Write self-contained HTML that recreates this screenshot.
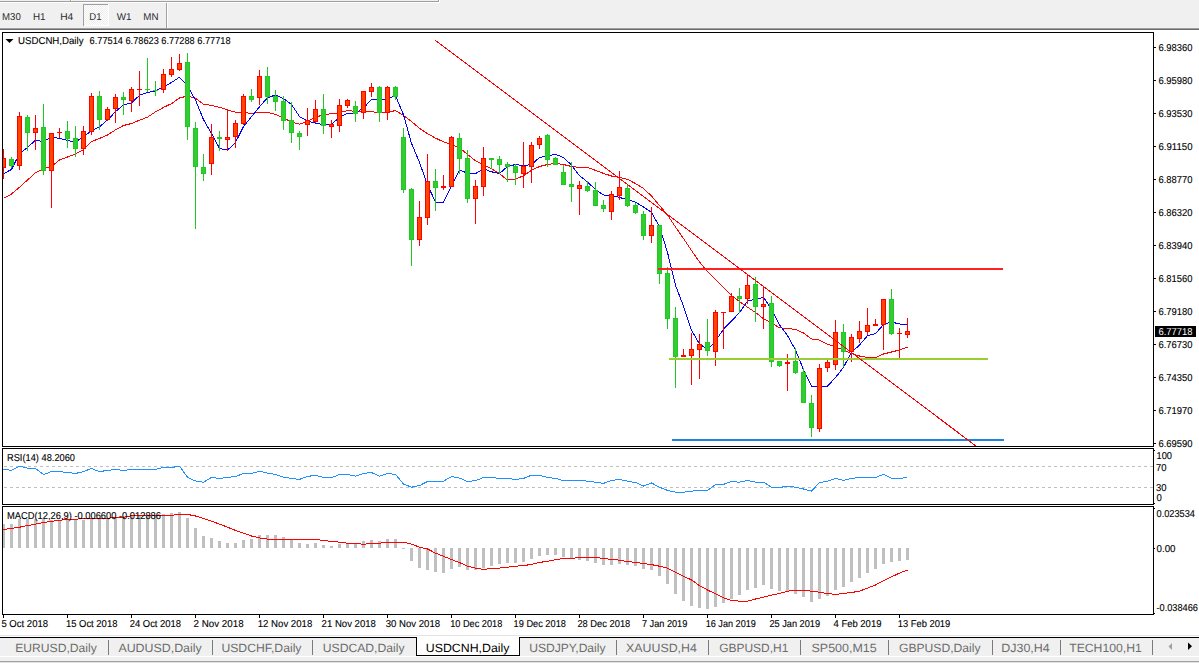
<!DOCTYPE html>
<html><head><meta charset="utf-8"><title>USDCNH,Daily</title>
<style>
html,body{margin:0;padding:0;background:#f0f0f0;width:1199px;height:663px;overflow:hidden}
svg{position:absolute;left:0;top:0;display:block}
text{font-family:'Liberation Sans', Arial, sans-serif;text-rendering:geometricPrecision}
.k{stroke:#000;stroke-width:0.12px}
</style></head><body>
<svg width="1199" height="663" viewBox="0 0 1199 663" shape-rendering="crispEdges">

<rect x="0" y="0" width="1199" height="30" fill="#f0f0f0"/>
<rect x="0" y="1" width="438" height="1" fill="#a0a0a0"/>
<rect x="0" y="2" width="440" height="1" fill="#ffffff"/>
<rect x="438" y="0" width="1" height="2" fill="#a0a0a0"/>
<rect x="439" y="0" width="1" height="3" fill="#ffffff"/>
<rect x="70" y="0" width="1" height="1" fill="#a0a0a0"/>
<rect x="71" y="0" width="1" height="1" fill="#ffffff"/>
<rect x="83" y="4" width="26" height="22" fill="#ffffff"/>
<defs><pattern id="dith" width="2" height="2" patternUnits="userSpaceOnUse"><rect width="2" height="2" fill="#ffffff"/><rect width="1" height="1" fill="#ededed"/><rect x="1" y="1" width="1" height="1" fill="#ededed"/></pattern></defs>
<rect x="84" y="5" width="24" height="20" fill="url(#dith)"/>
<rect x="83" y="4" width="25" height="1" fill="#a0a0a0"/>
<rect x="83" y="4" width="1" height="22" fill="#a0a0a0"/>
<rect x="166" y="3" width="1" height="25" fill="#a0a0a0"/>
<rect x="167" y="3" width="1" height="25" fill="#ffffff"/>
<rect x="0" y="28" width="1199" height="1" fill="#a0a0a0"/>
<rect x="0" y="29" width="1199" height="1" fill="#696969"/>
<text x="2.1" y="20" font-size="10" fill="#2b2b2b" textLength="18.7" lengthAdjust="spacingAndGlyphs">M30</text>
<text x="32.9" y="20" font-size="10" fill="#2b2b2b" textLength="12.6" lengthAdjust="spacingAndGlyphs">H1</text>
<text x="60.2" y="20" font-size="10" fill="#2b2b2b" textLength="13.1" lengthAdjust="spacingAndGlyphs">H4</text>
<text x="89.3" y="20" font-size="10" fill="#2b2b2b" textLength="12.2" lengthAdjust="spacingAndGlyphs">D1</text>
<text x="116.7" y="20" font-size="10" fill="#2b2b2b" textLength="14.8" lengthAdjust="spacingAndGlyphs">W1</text>
<text x="143.3" y="20" font-size="10" fill="#2b2b2b" textLength="15.2" lengthAdjust="spacingAndGlyphs">MN</text>
<rect x="0" y="30" width="1199" height="605" fill="#ffffff"/>
<rect x="0" y="635" width="1199" height="1" fill="#e3e3e3"/>
<rect x="0" y="636" width="1199" height="1" fill="#ffffff"/>
<clipPath id="cmain"><rect x="3" y="33" width="1150" height="413"/></clipPath>
<clipPath id="crsi"><rect x="3" y="449" width="1150" height="55"/></clipPath>
<clipPath id="cmacd"><rect x="3" y="507" width="1150" height="107"/></clipPath>
<g clip-path="url(#cmain)">
<polyline points="3.5,198.4 11.5,194.0 19.5,187.2 27.5,180.0 35.5,172.8 43.5,168.8 51.5,166.4 59.5,160.0 67.5,157.0 75.5,154.0 83.5,149.7 91.5,141.6 99.5,138.4 107.5,135.1 115.5,129.8 123.5,125.5 131.5,123.5 139.5,120.2 147.5,117.2 155.5,111.9 163.5,107.4 171.5,103.6 179.5,98.0 187.5,96.0 195.5,98.3 203.5,104.3 211.5,105.4 219.5,107.3 227.5,109.9 235.5,112.2 243.5,112.5 251.5,113.4 259.5,112.5 267.5,112.5 275.5,114.3 283.5,118.1 291.5,121.9 299.5,124.2 307.5,121.6 315.5,117.0 323.5,115.0 331.5,113.6 339.5,112.8 347.5,110.6 355.5,111.3 363.5,111.3 371.5,111.6 379.5,112.8 387.5,112.5 395.5,110.5 403.5,115.5 411.5,121.5 419.5,128.3 427.5,133.6 435.5,138.1 443.5,141.9 451.5,144.5 459.5,147.6 467.5,154.4 475.5,160.9 483.5,164.5 491.5,168.8 499.5,173.6 507.5,180.1 515.5,179.3 523.5,175.6 531.5,170.3 539.5,166.5 547.5,164.5 555.5,163.5 563.5,164.5 571.5,166.5 579.5,167.4 587.5,167.4 595.5,170.4 603.5,173.4 611.5,176.0 619.5,177.2 627.5,179.4 635.5,183.5 643.5,188.5 651.5,196.0 659.5,205.5 667.5,215.0 675.5,227.0 683.5,238.5 691.5,250.5 699.5,262.0 707.5,271.5 715.5,279.5 723.5,287.5 731.5,295.5 739.5,301.5 747.5,307.2 755.5,312.5 763.5,318.7 771.5,323.0 779.5,327.8 787.5,328.5 795.5,329.5 803.5,333.0 811.5,339.0 819.5,340.1 827.5,344.2 835.5,347.0 843.5,350.0 851.5,353.7 859.5,356.0 867.5,357.5 875.5,357.8 883.5,354.0 891.5,352.0 899.5,350.0 907.5,347.0" fill="none" stroke="#ff0000" stroke-width="1" clip-path="url(#cmain)" shape-rendering="crispEdges"/>
<polyline points="3.5,173.7 11.5,169.5 19.5,153.8 27.5,147.4 35.5,140.2 43.5,141.7 51.5,137.0 59.5,138.4 67.5,140.4 75.5,142.2 83.5,136.5 91.5,130.8 99.5,126.8 107.5,120.0 115.5,111.7 123.5,104.9 131.5,103.0 139.5,95.3 147.5,92.6 155.5,90.8 163.5,87.0 171.5,82.5 179.5,77.2 187.5,86.0 195.5,100.0 203.5,119.7 211.5,133.3 219.5,148.4 227.5,150.2 235.5,142.4 243.5,126.5 251.5,116.7 259.5,106.8 267.5,97.7 275.5,95.0 283.5,98.5 291.5,104.5 299.5,116.6 307.5,121.1 315.5,123.1 323.5,124.6 331.5,124.2 339.5,117.4 347.5,113.1 355.5,113.1 363.5,108.0 371.5,99.5 379.5,100.0 387.5,98.9 395.5,95.8 403.5,114.7 411.5,143.4 419.5,162.3 427.5,185.0 435.5,202.0 443.5,202.0 451.5,186.1 459.5,170.3 467.5,173.0 475.5,173.6 483.5,168.8 491.5,171.8 499.5,173.6 507.5,166.5 515.5,164.5 523.5,165.8 531.5,164.5 539.5,157.5 547.5,155.9 555.5,154.4 563.5,157.5 571.5,165.0 579.5,175.7 587.5,182.0 595.5,189.5 603.5,195.0 611.5,195.3 619.5,197.5 627.5,199.5 635.5,202.1 643.5,207.0 651.5,212.4 659.5,226.7 667.5,252.4 675.5,285.3 683.5,306.1 691.5,330.3 699.5,343.9 707.5,349.8 715.5,341.0 723.5,329.2 731.5,321.2 739.5,312.5 747.5,301.2 755.5,299.0 763.5,297.5 771.5,309.0 779.5,325.0 787.5,335.6 795.5,349.9 803.5,369.7 811.5,386.0 819.5,386.0 827.5,386.0 835.5,377.6 843.5,367.3 851.5,352.2 859.5,345.1 867.5,335.6 875.5,333.6 883.5,324.5 891.5,322.0 899.5,324.0 907.5,324.5" fill="none" stroke="#0000ff" stroke-width="1" clip-path="url(#cmain)" shape-rendering="crispEdges"/>
<rect x="3" y="149" width="1" height="30" fill="#ff0000"/>
<rect x="1" y="158" width="5" height="10" fill="#ff0000"/>
<rect x="2" y="159" width="3" height="8" fill="#ff4500"/>
<rect x="11" y="157" width="1" height="11" fill="#22c822"/>
<rect x="9" y="159" width="5" height="7" fill="#22c822"/>
<rect x="10" y="160" width="3" height="5" fill="#32cd32"/>
<rect x="19" y="112" width="1" height="58" fill="#ff0000"/>
<rect x="17" y="116" width="5" height="50" fill="#ff0000"/>
<rect x="18" y="117" width="3" height="48" fill="#ff4500"/>
<rect x="27" y="115" width="1" height="36" fill="#22c822"/>
<rect x="25" y="117" width="5" height="16" fill="#22c822"/>
<rect x="26" y="118" width="3" height="14" fill="#32cd32"/>
<rect x="35" y="115" width="1" height="35" fill="#ff0000"/>
<rect x="33" y="128" width="5" height="5" fill="#ff0000"/>
<rect x="34" y="129" width="3" height="3" fill="#ff4500"/>
<rect x="43" y="104" width="1" height="71" fill="#22c822"/>
<rect x="41" y="127" width="5" height="44" fill="#22c822"/>
<rect x="42" y="128" width="3" height="42" fill="#32cd32"/>
<rect x="51" y="133" width="1" height="75" fill="#ff0000"/>
<rect x="49" y="133" width="5" height="38" fill="#ff0000"/>
<rect x="50" y="134" width="3" height="36" fill="#ff4500"/>
<rect x="59" y="128" width="1" height="10" fill="#ff0000"/>
<rect x="57" y="132" width="5" height="1" fill="#ff0000"/>
<rect x="67" y="121" width="1" height="27" fill="#22c822"/>
<rect x="65" y="131" width="5" height="8" fill="#22c822"/>
<rect x="66" y="132" width="3" height="6" fill="#32cd32"/>
<rect x="75" y="126" width="1" height="31" fill="#22c822"/>
<rect x="73" y="138" width="5" height="11" fill="#22c822"/>
<rect x="74" y="139" width="3" height="9" fill="#32cd32"/>
<rect x="83" y="126" width="1" height="29" fill="#ff0000"/>
<rect x="81" y="131" width="5" height="18" fill="#ff0000"/>
<rect x="82" y="132" width="3" height="16" fill="#ff4500"/>
<rect x="91" y="93" width="1" height="42" fill="#ff0000"/>
<rect x="89" y="96" width="5" height="36" fill="#ff0000"/>
<rect x="90" y="97" width="3" height="34" fill="#ff4500"/>
<rect x="99" y="91" width="1" height="39" fill="#22c822"/>
<rect x="97" y="96" width="5" height="24" fill="#22c822"/>
<rect x="98" y="97" width="3" height="22" fill="#32cd32"/>
<rect x="107" y="107" width="1" height="14" fill="#ff0000"/>
<rect x="105" y="109" width="5" height="11" fill="#ff0000"/>
<rect x="106" y="110" width="3" height="9" fill="#ff4500"/>
<rect x="115" y="94" width="1" height="29" fill="#ff0000"/>
<rect x="113" y="97" width="5" height="12" fill="#ff0000"/>
<rect x="114" y="98" width="3" height="10" fill="#ff4500"/>
<rect x="123" y="92" width="1" height="23" fill="#22c822"/>
<rect x="121" y="97" width="5" height="3" fill="#22c822"/>
<rect x="122" y="98" width="3" height="1" fill="#32cd32"/>
<rect x="131" y="87" width="1" height="25" fill="#ff0000"/>
<rect x="129" y="89" width="5" height="12" fill="#ff0000"/>
<rect x="130" y="90" width="3" height="10" fill="#ff4500"/>
<rect x="139" y="71" width="1" height="35" fill="#ff0000"/>
<rect x="137" y="89" width="5" height="1" fill="#ff0000"/>
<rect x="147" y="58" width="1" height="34" fill="#22c822"/>
<rect x="145" y="89" width="5" height="1" fill="#22c822"/>
<rect x="155" y="81" width="1" height="15" fill="#22c822"/>
<rect x="153" y="90" width="5" height="1" fill="#22c822"/>
<rect x="163" y="69" width="1" height="24" fill="#ff0000"/>
<rect x="161" y="74" width="5" height="16" fill="#ff0000"/>
<rect x="162" y="75" width="3" height="14" fill="#ff4500"/>
<rect x="171" y="57" width="1" height="20" fill="#ff0000"/>
<rect x="169" y="69" width="5" height="6" fill="#ff0000"/>
<rect x="170" y="70" width="3" height="4" fill="#ff4500"/>
<rect x="179" y="54" width="1" height="17" fill="#ff0000"/>
<rect x="177" y="63" width="5" height="7" fill="#ff0000"/>
<rect x="178" y="64" width="3" height="5" fill="#ff4500"/>
<rect x="187" y="53" width="1" height="87" fill="#22c822"/>
<rect x="185" y="62" width="5" height="65" fill="#22c822"/>
<rect x="186" y="63" width="3" height="63" fill="#32cd32"/>
<rect x="195" y="122" width="1" height="107" fill="#22c822"/>
<rect x="193" y="128" width="5" height="39" fill="#22c822"/>
<rect x="194" y="129" width="3" height="37" fill="#32cd32"/>
<rect x="203" y="154" width="1" height="27" fill="#22c822"/>
<rect x="201" y="167" width="5" height="7" fill="#22c822"/>
<rect x="202" y="168" width="3" height="5" fill="#32cd32"/>
<rect x="211" y="124" width="1" height="51" fill="#ff0000"/>
<rect x="209" y="137" width="5" height="27" fill="#ff0000"/>
<rect x="210" y="138" width="3" height="25" fill="#ff4500"/>
<rect x="219" y="131" width="1" height="20" fill="#22c822"/>
<rect x="217" y="137" width="5" height="2" fill="#22c822"/>
<rect x="227" y="109" width="1" height="42" fill="#ff0000"/>
<rect x="225" y="137" width="5" height="3" fill="#ff0000"/>
<rect x="226" y="138" width="3" height="1" fill="#ff4500"/>
<rect x="235" y="120" width="1" height="28" fill="#ff0000"/>
<rect x="233" y="123" width="5" height="14" fill="#ff0000"/>
<rect x="234" y="124" width="3" height="12" fill="#ff4500"/>
<rect x="243" y="94" width="1" height="31" fill="#ff0000"/>
<rect x="241" y="96" width="5" height="28" fill="#ff0000"/>
<rect x="242" y="97" width="3" height="26" fill="#ff4500"/>
<rect x="251" y="89" width="1" height="13" fill="#22c822"/>
<rect x="249" y="96" width="5" height="4" fill="#22c822"/>
<rect x="250" y="97" width="3" height="2" fill="#32cd32"/>
<rect x="259" y="70" width="1" height="35" fill="#ff0000"/>
<rect x="257" y="76" width="5" height="22" fill="#ff0000"/>
<rect x="258" y="77" width="3" height="20" fill="#ff4500"/>
<rect x="267" y="67" width="1" height="37" fill="#22c822"/>
<rect x="265" y="76" width="5" height="21" fill="#22c822"/>
<rect x="266" y="77" width="3" height="19" fill="#32cd32"/>
<rect x="275" y="90" width="1" height="21" fill="#22c822"/>
<rect x="273" y="96" width="5" height="6" fill="#22c822"/>
<rect x="274" y="97" width="3" height="4" fill="#32cd32"/>
<rect x="283" y="96" width="1" height="34" fill="#22c822"/>
<rect x="281" y="101" width="5" height="20" fill="#22c822"/>
<rect x="282" y="102" width="3" height="18" fill="#32cd32"/>
<rect x="291" y="102" width="1" height="41" fill="#22c822"/>
<rect x="289" y="120" width="5" height="13" fill="#22c822"/>
<rect x="290" y="121" width="3" height="11" fill="#32cd32"/>
<rect x="299" y="131" width="1" height="19" fill="#22c822"/>
<rect x="297" y="133" width="5" height="4" fill="#22c822"/>
<rect x="298" y="134" width="3" height="2" fill="#32cd32"/>
<rect x="307" y="108" width="1" height="28" fill="#ff0000"/>
<rect x="305" y="120" width="5" height="5" fill="#ff0000"/>
<rect x="306" y="121" width="3" height="3" fill="#ff4500"/>
<rect x="315" y="100" width="1" height="23" fill="#ff0000"/>
<rect x="313" y="109" width="5" height="13" fill="#ff0000"/>
<rect x="314" y="110" width="3" height="11" fill="#ff4500"/>
<rect x="323" y="94" width="1" height="40" fill="#22c822"/>
<rect x="321" y="109" width="5" height="17" fill="#22c822"/>
<rect x="322" y="110" width="3" height="15" fill="#32cd32"/>
<rect x="331" y="120" width="1" height="18" fill="#ff0000"/>
<rect x="329" y="124" width="5" height="3" fill="#ff0000"/>
<rect x="330" y="125" width="3" height="1" fill="#ff4500"/>
<rect x="339" y="99" width="1" height="33" fill="#ff0000"/>
<rect x="337" y="105" width="5" height="21" fill="#ff0000"/>
<rect x="338" y="106" width="3" height="19" fill="#ff4500"/>
<rect x="347" y="99" width="1" height="9" fill="#ff0000"/>
<rect x="345" y="100" width="5" height="6" fill="#ff0000"/>
<rect x="346" y="101" width="3" height="4" fill="#ff4500"/>
<rect x="355" y="101" width="1" height="21" fill="#22c822"/>
<rect x="353" y="106" width="5" height="8" fill="#22c822"/>
<rect x="354" y="107" width="3" height="6" fill="#32cd32"/>
<rect x="363" y="91" width="1" height="28" fill="#ff0000"/>
<rect x="361" y="91" width="5" height="22" fill="#ff0000"/>
<rect x="362" y="92" width="3" height="20" fill="#ff4500"/>
<rect x="371" y="83" width="1" height="14" fill="#ff0000"/>
<rect x="369" y="87" width="5" height="5" fill="#ff0000"/>
<rect x="370" y="88" width="3" height="3" fill="#ff4500"/>
<rect x="379" y="86" width="1" height="36" fill="#22c822"/>
<rect x="377" y="87" width="5" height="26" fill="#22c822"/>
<rect x="378" y="88" width="3" height="24" fill="#32cd32"/>
<rect x="387" y="86" width="1" height="34" fill="#ff0000"/>
<rect x="385" y="87" width="5" height="26" fill="#ff0000"/>
<rect x="386" y="88" width="3" height="24" fill="#ff4500"/>
<rect x="395" y="86" width="1" height="14" fill="#22c822"/>
<rect x="393" y="87" width="5" height="10" fill="#22c822"/>
<rect x="394" y="88" width="3" height="8" fill="#32cd32"/>
<rect x="403" y="128" width="1" height="65" fill="#22c822"/>
<rect x="401" y="137" width="5" height="53" fill="#22c822"/>
<rect x="402" y="138" width="3" height="51" fill="#32cd32"/>
<rect x="411" y="188" width="1" height="78" fill="#22c822"/>
<rect x="409" y="189" width="5" height="51" fill="#22c822"/>
<rect x="410" y="190" width="3" height="49" fill="#32cd32"/>
<rect x="419" y="201" width="1" height="45" fill="#ff0000"/>
<rect x="417" y="217" width="5" height="23" fill="#ff0000"/>
<rect x="418" y="218" width="3" height="21" fill="#ff4500"/>
<rect x="427" y="154" width="1" height="71" fill="#ff0000"/>
<rect x="425" y="181" width="5" height="37" fill="#ff0000"/>
<rect x="426" y="182" width="3" height="35" fill="#ff4500"/>
<rect x="435" y="169" width="1" height="42" fill="#22c822"/>
<rect x="433" y="181" width="5" height="7" fill="#22c822"/>
<rect x="434" y="182" width="3" height="5" fill="#32cd32"/>
<rect x="443" y="175" width="1" height="15" fill="#ff0000"/>
<rect x="441" y="186" width="5" height="2" fill="#ff0000"/>
<rect x="451" y="136" width="1" height="51" fill="#ff0000"/>
<rect x="449" y="137" width="5" height="50" fill="#ff0000"/>
<rect x="450" y="138" width="3" height="48" fill="#ff4500"/>
<rect x="459" y="133" width="1" height="41" fill="#22c822"/>
<rect x="457" y="138" width="5" height="21" fill="#22c822"/>
<rect x="458" y="139" width="3" height="19" fill="#32cd32"/>
<rect x="467" y="150" width="1" height="53" fill="#22c822"/>
<rect x="465" y="158" width="5" height="41" fill="#22c822"/>
<rect x="466" y="159" width="3" height="39" fill="#32cd32"/>
<rect x="475" y="180" width="1" height="44" fill="#ff0000"/>
<rect x="473" y="186" width="5" height="13" fill="#ff0000"/>
<rect x="474" y="187" width="3" height="11" fill="#ff4500"/>
<rect x="483" y="147" width="1" height="49" fill="#ff0000"/>
<rect x="481" y="158" width="5" height="29" fill="#ff0000"/>
<rect x="482" y="159" width="3" height="27" fill="#ff4500"/>
<rect x="491" y="158" width="1" height="11" fill="#22c822"/>
<rect x="489" y="158" width="5" height="2" fill="#22c822"/>
<rect x="499" y="156" width="1" height="18" fill="#22c822"/>
<rect x="497" y="159" width="5" height="6" fill="#22c822"/>
<rect x="498" y="160" width="3" height="4" fill="#32cd32"/>
<rect x="507" y="162" width="1" height="20" fill="#22c822"/>
<rect x="505" y="164" width="5" height="3" fill="#22c822"/>
<rect x="506" y="165" width="3" height="1" fill="#32cd32"/>
<rect x="515" y="164" width="1" height="21" fill="#22c822"/>
<rect x="513" y="166" width="5" height="7" fill="#22c822"/>
<rect x="514" y="167" width="3" height="5" fill="#32cd32"/>
<rect x="523" y="142" width="1" height="46" fill="#ff0000"/>
<rect x="521" y="166" width="5" height="8" fill="#ff0000"/>
<rect x="522" y="167" width="3" height="6" fill="#ff4500"/>
<rect x="531" y="142" width="1" height="41" fill="#ff0000"/>
<rect x="529" y="145" width="5" height="22" fill="#ff0000"/>
<rect x="530" y="146" width="3" height="20" fill="#ff4500"/>
<rect x="539" y="136" width="1" height="13" fill="#ff0000"/>
<rect x="537" y="138" width="5" height="7" fill="#ff0000"/>
<rect x="538" y="139" width="3" height="5" fill="#ff4500"/>
<rect x="547" y="134" width="1" height="33" fill="#22c822"/>
<rect x="545" y="135" width="5" height="25" fill="#22c822"/>
<rect x="546" y="136" width="3" height="23" fill="#32cd32"/>
<rect x="555" y="157" width="1" height="8" fill="#22c822"/>
<rect x="553" y="158" width="5" height="7" fill="#22c822"/>
<rect x="554" y="159" width="3" height="5" fill="#32cd32"/>
<rect x="563" y="165" width="1" height="20" fill="#22c822"/>
<rect x="561" y="172" width="5" height="13" fill="#22c822"/>
<rect x="562" y="173" width="3" height="11" fill="#32cd32"/>
<rect x="571" y="162" width="1" height="40" fill="#22c822"/>
<rect x="569" y="184" width="5" height="3" fill="#22c822"/>
<rect x="570" y="185" width="3" height="1" fill="#32cd32"/>
<rect x="579" y="181" width="1" height="34" fill="#ff0000"/>
<rect x="577" y="185" width="5" height="4" fill="#ff0000"/>
<rect x="578" y="186" width="3" height="2" fill="#ff4500"/>
<rect x="587" y="181" width="1" height="11" fill="#22c822"/>
<rect x="585" y="186" width="5" height="5" fill="#22c822"/>
<rect x="586" y="187" width="3" height="3" fill="#32cd32"/>
<rect x="595" y="182" width="1" height="24" fill="#22c822"/>
<rect x="593" y="190" width="5" height="16" fill="#22c822"/>
<rect x="594" y="191" width="3" height="14" fill="#32cd32"/>
<rect x="603" y="200" width="1" height="12" fill="#22c822"/>
<rect x="601" y="205" width="5" height="4" fill="#22c822"/>
<rect x="602" y="206" width="3" height="2" fill="#32cd32"/>
<rect x="611" y="191" width="1" height="29" fill="#ff0000"/>
<rect x="609" y="194" width="5" height="18" fill="#ff0000"/>
<rect x="610" y="195" width="3" height="16" fill="#ff4500"/>
<rect x="619" y="171" width="1" height="29" fill="#ff0000"/>
<rect x="617" y="187" width="5" height="9" fill="#ff0000"/>
<rect x="618" y="188" width="3" height="7" fill="#ff4500"/>
<rect x="627" y="184" width="1" height="23" fill="#22c822"/>
<rect x="625" y="188" width="5" height="18" fill="#22c822"/>
<rect x="626" y="189" width="3" height="16" fill="#32cd32"/>
<rect x="635" y="203" width="1" height="11" fill="#22c822"/>
<rect x="633" y="205" width="5" height="8" fill="#22c822"/>
<rect x="634" y="206" width="3" height="6" fill="#32cd32"/>
<rect x="643" y="211" width="1" height="29" fill="#22c822"/>
<rect x="641" y="214" width="5" height="22" fill="#22c822"/>
<rect x="642" y="215" width="3" height="20" fill="#32cd32"/>
<rect x="651" y="207" width="1" height="36" fill="#ff0000"/>
<rect x="649" y="225" width="5" height="11" fill="#ff0000"/>
<rect x="650" y="226" width="3" height="9" fill="#ff4500"/>
<rect x="659" y="225" width="1" height="59" fill="#22c822"/>
<rect x="657" y="225" width="5" height="49" fill="#22c822"/>
<rect x="658" y="226" width="3" height="47" fill="#32cd32"/>
<rect x="667" y="267" width="1" height="62" fill="#22c822"/>
<rect x="665" y="273" width="5" height="46" fill="#22c822"/>
<rect x="666" y="274" width="3" height="44" fill="#32cd32"/>
<rect x="675" y="307" width="1" height="81" fill="#22c822"/>
<rect x="673" y="318" width="5" height="39" fill="#22c822"/>
<rect x="674" y="319" width="3" height="37" fill="#32cd32"/>
<rect x="683" y="349" width="1" height="8" fill="#ff0000"/>
<rect x="681" y="355" width="5" height="2" fill="#ff0000"/>
<rect x="691" y="333" width="1" height="52" fill="#ff0000"/>
<rect x="689" y="349" width="5" height="7" fill="#ff0000"/>
<rect x="690" y="350" width="3" height="5" fill="#ff4500"/>
<rect x="699" y="334" width="1" height="45" fill="#ff0000"/>
<rect x="697" y="344" width="5" height="6" fill="#ff0000"/>
<rect x="698" y="345" width="3" height="4" fill="#ff4500"/>
<rect x="707" y="319" width="1" height="37" fill="#22c822"/>
<rect x="705" y="342" width="5" height="9" fill="#22c822"/>
<rect x="706" y="343" width="3" height="7" fill="#32cd32"/>
<rect x="715" y="310" width="1" height="56" fill="#ff0000"/>
<rect x="713" y="312" width="5" height="40" fill="#ff0000"/>
<rect x="714" y="313" width="3" height="38" fill="#ff4500"/>
<rect x="723" y="312" width="1" height="37" fill="#ff0000"/>
<rect x="721" y="312" width="5" height="1" fill="#ff0000"/>
<rect x="731" y="293" width="1" height="19" fill="#ff0000"/>
<rect x="729" y="296" width="5" height="16" fill="#ff0000"/>
<rect x="730" y="297" width="3" height="14" fill="#ff4500"/>
<rect x="739" y="288" width="1" height="25" fill="#22c822"/>
<rect x="737" y="296" width="5" height="3" fill="#22c822"/>
<rect x="738" y="297" width="3" height="1" fill="#32cd32"/>
<rect x="747" y="274" width="1" height="30" fill="#ff0000"/>
<rect x="745" y="285" width="5" height="14" fill="#ff0000"/>
<rect x="746" y="286" width="3" height="12" fill="#ff4500"/>
<rect x="755" y="277" width="1" height="45" fill="#22c822"/>
<rect x="753" y="284" width="5" height="23" fill="#22c822"/>
<rect x="754" y="285" width="3" height="21" fill="#32cd32"/>
<rect x="763" y="287" width="1" height="42" fill="#ff0000"/>
<rect x="761" y="304" width="5" height="3" fill="#ff0000"/>
<rect x="762" y="305" width="3" height="1" fill="#ff4500"/>
<rect x="771" y="296" width="1" height="71" fill="#22c822"/>
<rect x="769" y="303" width="5" height="59" fill="#22c822"/>
<rect x="770" y="304" width="3" height="57" fill="#32cd32"/>
<rect x="779" y="361" width="1" height="6" fill="#22c822"/>
<rect x="777" y="361" width="5" height="5" fill="#22c822"/>
<rect x="778" y="362" width="3" height="3" fill="#32cd32"/>
<rect x="787" y="354" width="1" height="37" fill="#ff0000"/>
<rect x="785" y="362" width="5" height="2" fill="#ff0000"/>
<rect x="795" y="348" width="1" height="26" fill="#22c822"/>
<rect x="793" y="361" width="5" height="12" fill="#22c822"/>
<rect x="794" y="362" width="3" height="10" fill="#32cd32"/>
<rect x="803" y="368" width="1" height="35" fill="#22c822"/>
<rect x="801" y="372" width="5" height="31" fill="#22c822"/>
<rect x="802" y="373" width="3" height="29" fill="#32cd32"/>
<rect x="811" y="395" width="1" height="42" fill="#22c822"/>
<rect x="809" y="403" width="5" height="25" fill="#22c822"/>
<rect x="810" y="404" width="3" height="23" fill="#32cd32"/>
<rect x="819" y="364" width="1" height="68" fill="#ff0000"/>
<rect x="817" y="368" width="5" height="61" fill="#ff0000"/>
<rect x="818" y="369" width="3" height="59" fill="#ff4500"/>
<rect x="827" y="360" width="1" height="12" fill="#ff0000"/>
<rect x="825" y="362" width="5" height="6" fill="#ff0000"/>
<rect x="826" y="363" width="3" height="4" fill="#ff4500"/>
<rect x="835" y="320" width="1" height="50" fill="#ff0000"/>
<rect x="833" y="332" width="5" height="33" fill="#ff0000"/>
<rect x="834" y="333" width="3" height="31" fill="#ff4500"/>
<rect x="843" y="324" width="1" height="43" fill="#22c822"/>
<rect x="841" y="332" width="5" height="20" fill="#22c822"/>
<rect x="842" y="333" width="3" height="18" fill="#32cd32"/>
<rect x="851" y="334" width="1" height="28" fill="#ff0000"/>
<rect x="849" y="337" width="5" height="15" fill="#ff0000"/>
<rect x="850" y="338" width="3" height="13" fill="#ff4500"/>
<rect x="859" y="321" width="1" height="22" fill="#ff0000"/>
<rect x="857" y="331" width="5" height="8" fill="#ff0000"/>
<rect x="858" y="332" width="3" height="6" fill="#ff4500"/>
<rect x="867" y="308" width="1" height="27" fill="#ff0000"/>
<rect x="865" y="325" width="5" height="7" fill="#ff0000"/>
<rect x="866" y="326" width="3" height="5" fill="#ff4500"/>
<rect x="875" y="319" width="1" height="7" fill="#ff0000"/>
<rect x="873" y="324" width="5" height="2" fill="#ff0000"/>
<rect x="883" y="299" width="1" height="51" fill="#ff0000"/>
<rect x="881" y="299" width="5" height="26" fill="#ff0000"/>
<rect x="882" y="300" width="3" height="24" fill="#ff4500"/>
<rect x="891" y="289" width="1" height="46" fill="#22c822"/>
<rect x="889" y="299" width="5" height="35" fill="#22c822"/>
<rect x="890" y="300" width="3" height="33" fill="#32cd32"/>
<rect x="899" y="328" width="1" height="30" fill="#ff0000"/>
<rect x="897" y="333" width="5" height="1" fill="#ff0000"/>
<rect x="907" y="318" width="1" height="20" fill="#ff0000"/>
<rect x="905" y="331" width="5" height="4" fill="#ff0000"/>
<rect x="906" y="332" width="3" height="2" fill="#ff4500"/>
<rect x="658" y="268" width="345" height="2" fill="#ff2020"/>
<rect x="669" y="358" width="319" height="2" fill="#9acd32"/>
<rect x="672" y="439" width="332" height="2" fill="#1e84e0"/>
<line x1="435.5" y1="40.5" x2="976" y2="446" stroke="#ff0000" stroke-width="1"/>
</g>
<polygon points="5.5,39 13.5,39 9.5,43" fill="#000" shape-rendering="geometricPrecision"/>
<text x="18" y="44" font-size="10" fill="#000" class="k" textLength="65.5" lengthAdjust="spacingAndGlyphs">USDCNH,Daily</text>
<text x="89.6" y="44" font-size="10" fill="#000" class="k" textLength="141" lengthAdjust="spacingAndGlyphs">6.77514 6.78623 6.77288 6.77718</text>
<rect x="2" y="32" width="1152" height="1" fill="#000"/>
<rect x="2" y="446" width="1152" height="1" fill="#000"/>
<rect x="2" y="32" width="1" height="415" fill="#000"/>
<rect x="1153" y="32" width="1" height="415" fill="#000"/>
<rect x="2" y="448" width="1152" height="1" fill="#000"/>
<rect x="2" y="504" width="1152" height="1" fill="#000"/>
<rect x="2" y="448" width="1" height="57" fill="#000"/>
<rect x="1153" y="448" width="1" height="57" fill="#000"/>
<rect x="2" y="506" width="1152" height="1" fill="#000"/>
<rect x="2" y="614" width="1152" height="1" fill="#000"/>
<rect x="2" y="506" width="1" height="109" fill="#000"/>
<rect x="1153" y="506" width="1" height="109" fill="#000"/>
<rect x="1154" y="47" width="2" height="1" fill="#000"/>
<text x="1158.5" y="51" font-size="10" fill="#000" class="k" textLength="34" lengthAdjust="spacingAndGlyphs">6.98360</text>
<rect x="1154" y="80" width="2" height="1" fill="#000"/>
<text x="1158.5" y="84" font-size="10" fill="#000" class="k" textLength="34" lengthAdjust="spacingAndGlyphs">6.95980</text>
<rect x="1154" y="113" width="2" height="1" fill="#000"/>
<text x="1158.5" y="117" font-size="10" fill="#000" class="k" textLength="34" lengthAdjust="spacingAndGlyphs">6.93530</text>
<rect x="1154" y="146" width="2" height="1" fill="#000"/>
<text x="1158.5" y="150" font-size="10" fill="#000" class="k" textLength="34" lengthAdjust="spacingAndGlyphs">6.91150</text>
<rect x="1154" y="179" width="2" height="1" fill="#000"/>
<text x="1158.5" y="183" font-size="10" fill="#000" class="k" textLength="34" lengthAdjust="spacingAndGlyphs">6.88770</text>
<rect x="1154" y="212" width="2" height="1" fill="#000"/>
<text x="1158.5" y="216" font-size="10" fill="#000" class="k" textLength="34" lengthAdjust="spacingAndGlyphs">6.86320</text>
<rect x="1154" y="245" width="2" height="1" fill="#000"/>
<text x="1158.5" y="249" font-size="10" fill="#000" class="k" textLength="34" lengthAdjust="spacingAndGlyphs">6.83940</text>
<rect x="1154" y="278" width="2" height="1" fill="#000"/>
<text x="1158.5" y="282" font-size="10" fill="#000" class="k" textLength="34" lengthAdjust="spacingAndGlyphs">6.81560</text>
<rect x="1154" y="311" width="2" height="1" fill="#000"/>
<text x="1158.5" y="315" font-size="10" fill="#000" class="k" textLength="34" lengthAdjust="spacingAndGlyphs">6.79180</text>
<rect x="1154" y="344" width="2" height="1" fill="#000"/>
<text x="1158.5" y="348" font-size="10" fill="#000" class="k" textLength="34" lengthAdjust="spacingAndGlyphs">6.76730</text>
<rect x="1154" y="377" width="2" height="1" fill="#000"/>
<text x="1158.5" y="381" font-size="10" fill="#000" class="k" textLength="34" lengthAdjust="spacingAndGlyphs">6.74350</text>
<rect x="1154" y="410" width="2" height="1" fill="#000"/>
<text x="1158.5" y="414" font-size="10" fill="#000" class="k" textLength="34" lengthAdjust="spacingAndGlyphs">6.71970</text>
<rect x="1154" y="443" width="2" height="1" fill="#000"/>
<text x="1158.5" y="447" font-size="10" fill="#000" class="k" textLength="34" lengthAdjust="spacingAndGlyphs">6.69590</text>
<rect x="1155" y="326" width="41" height="11" fill="#000"/>
<text x="1158.5" y="335" font-size="10" fill="#fff" textLength="34" lengthAdjust="spacingAndGlyphs">6.77718</text>
<g clip-path="url(#crsi)">
<line x1="3" y1="466.5" x2="1153" y2="466.5" stroke="#c0c0c0" stroke-width="1" stroke-dasharray="3 3" stroke-dashoffset="-1"/>
<line x1="3" y1="487.5" x2="1153" y2="487.5" stroke="#c0c0c0" stroke-width="1" stroke-dasharray="3 3" stroke-dashoffset="-1"/>
<polyline points="3.5,469.1 11.5,470.4 19.5,466.2 27.5,468.2 35.5,468.5 43.5,474.5 51.5,471.6 59.5,471.6 67.5,472.5 75.5,473.5 83.5,471.6 91.5,468.5 99.5,471.6 107.5,470.4 115.5,469.5 123.5,470.4 131.5,469.5 139.5,469.5 147.5,469.4 155.5,469.4 163.5,467.5 171.5,467.5 179.5,466.2 187.5,477.2 195.5,481.0 203.5,482.2 211.5,477.5 219.5,478.4 227.5,477.5 235.5,476.5 243.5,473.5 251.5,473.5 259.5,471.2 267.5,473.1 275.5,474.4 283.5,477.1 291.5,478.4 299.5,479.4 307.5,476.5 315.5,475.2 323.5,477.5 331.5,477.5 339.5,474.6 347.5,474.4 355.5,476.2 363.5,473.5 371.5,472.5 379.5,476.2 387.5,473.5 395.5,474.4 403.5,484.0 411.5,487.2 419.5,485.6 427.5,481.5 435.5,481.5 443.5,481.2 451.5,476.5 459.5,478.1 467.5,481.5 475.5,480.6 483.5,477.5 491.5,477.5 499.5,478.4 507.5,478.4 515.5,479.4 523.5,478.4 531.5,475.2 539.5,475.2 547.5,477.5 555.5,478.4 563.5,480.6 571.5,480.4 579.5,480.4 587.5,481.2 595.5,482.2 603.5,483.4 611.5,480.4 619.5,479.4 627.5,481.2 635.5,482.5 643.5,486.0 651.5,483.0 659.5,487.2 667.5,490.4 675.5,492.2 683.5,492.2 691.5,491.2 699.5,490.4 707.5,490.4 715.5,484.6 723.5,484.4 731.5,481.5 739.5,482.2 747.5,480.4 755.5,482.2 763.5,482.2 771.5,487.2 779.5,487.5 787.5,486.2 795.5,487.2 803.5,489.0 811.5,491.2 819.5,482.5 827.5,481.2 835.5,478.4 843.5,480.4 851.5,478.4 859.5,477.5 867.5,477.5 875.5,477.5 883.5,474.4 891.5,478.4 899.5,478.4 907.5,477.5" fill="none" stroke="#1e90ff" stroke-width="1" clip-path="url(#crsi)" shape-rendering="crispEdges"/>
</g>
<text x="7" y="461" font-size="10" fill="#000" class="k" textLength="68" lengthAdjust="spacingAndGlyphs">RSI(14) 48.2060</text>
<rect x="1154" y="450" width="1" height="1" fill="#000"/>
<rect x="1154" y="503" width="1" height="1" fill="#000"/>
<text x="1156.5" y="459" font-size="10" fill="#000" class="k" textLength="15.5" lengthAdjust="spacingAndGlyphs">100</text>
<text x="1156" y="470.5" font-size="10" fill="#000" class="k" textLength="10.5" lengthAdjust="spacingAndGlyphs">70</text>
<text x="1156" y="490.5" font-size="10" fill="#000" class="k" textLength="10.5" lengthAdjust="spacingAndGlyphs">30</text>
<text x="1156.5" y="501" font-size="10" fill="#000" class="k" textLength="5.3" lengthAdjust="spacingAndGlyphs">0</text>
<g clip-path="url(#cmacd)">
<rect x="2" y="524" width="3" height="24" fill="#c0c0c0"/>
<rect x="10" y="524" width="3" height="24" fill="#c0c0c0"/>
<rect x="18" y="519" width="3" height="29" fill="#c0c0c0"/>
<rect x="26" y="519" width="3" height="29" fill="#c0c0c0"/>
<rect x="34" y="519" width="3" height="29" fill="#c0c0c0"/>
<rect x="42" y="519" width="3" height="29" fill="#c0c0c0"/>
<rect x="50" y="520" width="3" height="28" fill="#c0c0c0"/>
<rect x="58" y="520" width="3" height="28" fill="#c0c0c0"/>
<rect x="66" y="520" width="3" height="28" fill="#c0c0c0"/>
<rect x="74" y="520" width="3" height="28" fill="#c0c0c0"/>
<rect x="82" y="520" width="3" height="28" fill="#c0c0c0"/>
<rect x="90" y="519" width="3" height="29" fill="#c0c0c0"/>
<rect x="98" y="519" width="3" height="29" fill="#c0c0c0"/>
<rect x="106" y="519" width="3" height="29" fill="#c0c0c0"/>
<rect x="114" y="518" width="3" height="30" fill="#c0c0c0"/>
<rect x="122" y="516" width="3" height="32" fill="#c0c0c0"/>
<rect x="130" y="515" width="3" height="33" fill="#c0c0c0"/>
<rect x="138" y="515" width="3" height="33" fill="#c0c0c0"/>
<rect x="146" y="516" width="3" height="32" fill="#c0c0c0"/>
<rect x="154" y="515" width="3" height="33" fill="#c0c0c0"/>
<rect x="162" y="514" width="3" height="34" fill="#c0c0c0"/>
<rect x="170" y="513" width="3" height="35" fill="#c0c0c0"/>
<rect x="178" y="512" width="3" height="36" fill="#c0c0c0"/>
<rect x="186" y="518" width="3" height="30" fill="#c0c0c0"/>
<rect x="194" y="528" width="3" height="20" fill="#c0c0c0"/>
<rect x="202" y="536" width="3" height="12" fill="#c0c0c0"/>
<rect x="210" y="538" width="3" height="10" fill="#c0c0c0"/>
<rect x="218" y="541" width="3" height="7" fill="#c0c0c0"/>
<rect x="226" y="543" width="3" height="5" fill="#c0c0c0"/>
<rect x="234" y="543" width="3" height="5" fill="#c0c0c0"/>
<rect x="242" y="540" width="3" height="8" fill="#c0c0c0"/>
<rect x="250" y="539" width="3" height="9" fill="#c0c0c0"/>
<rect x="258" y="535" width="3" height="13" fill="#c0c0c0"/>
<rect x="266" y="535" width="3" height="13" fill="#c0c0c0"/>
<rect x="274" y="535" width="3" height="13" fill="#c0c0c0"/>
<rect x="282" y="537" width="3" height="11" fill="#c0c0c0"/>
<rect x="290" y="540" width="3" height="8" fill="#c0c0c0"/>
<rect x="298" y="543" width="3" height="5" fill="#c0c0c0"/>
<rect x="306" y="544" width="3" height="4" fill="#c0c0c0"/>
<rect x="314" y="543" width="3" height="5" fill="#c0c0c0"/>
<rect x="322" y="545" width="3" height="3" fill="#c0c0c0"/>
<rect x="330" y="546" width="3" height="2" fill="#c0c0c0"/>
<rect x="338" y="544" width="3" height="4" fill="#c0c0c0"/>
<rect x="346" y="544" width="3" height="4" fill="#c0c0c0"/>
<rect x="354" y="544" width="3" height="4" fill="#c0c0c0"/>
<rect x="362" y="541" width="3" height="7" fill="#c0c0c0"/>
<rect x="370" y="540" width="3" height="8" fill="#c0c0c0"/>
<rect x="378" y="541" width="3" height="7" fill="#c0c0c0"/>
<rect x="386" y="539" width="3" height="9" fill="#c0c0c0"/>
<rect x="394" y="539" width="3" height="9" fill="#c0c0c0"/>
<rect x="402" y="548" width="3" height="1" fill="#c0c0c0"/>
<rect x="410" y="548" width="3" height="13" fill="#c0c0c0"/>
<rect x="418" y="548" width="3" height="20" fill="#c0c0c0"/>
<rect x="426" y="548" width="3" height="22" fill="#c0c0c0"/>
<rect x="434" y="548" width="3" height="24" fill="#c0c0c0"/>
<rect x="442" y="548" width="3" height="25" fill="#c0c0c0"/>
<rect x="450" y="548" width="3" height="21" fill="#c0c0c0"/>
<rect x="458" y="548" width="3" height="19" fill="#c0c0c0"/>
<rect x="466" y="548" width="3" height="22" fill="#c0c0c0"/>
<rect x="474" y="548" width="3" height="22" fill="#c0c0c0"/>
<rect x="482" y="548" width="3" height="20" fill="#c0c0c0"/>
<rect x="490" y="548" width="3" height="18" fill="#c0c0c0"/>
<rect x="498" y="548" width="3" height="16" fill="#c0c0c0"/>
<rect x="506" y="548" width="3" height="15" fill="#c0c0c0"/>
<rect x="514" y="548" width="3" height="15" fill="#c0c0c0"/>
<rect x="522" y="548" width="3" height="14" fill="#c0c0c0"/>
<rect x="530" y="548" width="3" height="11" fill="#c0c0c0"/>
<rect x="538" y="548" width="3" height="8" fill="#c0c0c0"/>
<rect x="546" y="548" width="3" height="7" fill="#c0c0c0"/>
<rect x="554" y="548" width="3" height="7" fill="#c0c0c0"/>
<rect x="562" y="548" width="3" height="9" fill="#c0c0c0"/>
<rect x="570" y="548" width="3" height="10" fill="#c0c0c0"/>
<rect x="578" y="548" width="3" height="12" fill="#c0c0c0"/>
<rect x="586" y="548" width="3" height="13" fill="#c0c0c0"/>
<rect x="594" y="548" width="3" height="15" fill="#c0c0c0"/>
<rect x="602" y="548" width="3" height="17" fill="#c0c0c0"/>
<rect x="610" y="548" width="3" height="17" fill="#c0c0c0"/>
<rect x="618" y="548" width="3" height="16" fill="#c0c0c0"/>
<rect x="626" y="548" width="3" height="17" fill="#c0c0c0"/>
<rect x="634" y="548" width="3" height="18" fill="#c0c0c0"/>
<rect x="642" y="548" width="3" height="21" fill="#c0c0c0"/>
<rect x="650" y="548" width="3" height="22" fill="#c0c0c0"/>
<rect x="658" y="548" width="3" height="28" fill="#c0c0c0"/>
<rect x="666" y="548" width="3" height="36" fill="#c0c0c0"/>
<rect x="674" y="548" width="3" height="46" fill="#c0c0c0"/>
<rect x="682" y="548" width="3" height="53" fill="#c0c0c0"/>
<rect x="690" y="548" width="3" height="58" fill="#c0c0c0"/>
<rect x="698" y="548" width="3" height="60" fill="#c0c0c0"/>
<rect x="706" y="548" width="3" height="61" fill="#c0c0c0"/>
<rect x="714" y="548" width="3" height="59" fill="#c0c0c0"/>
<rect x="722" y="548" width="3" height="55" fill="#c0c0c0"/>
<rect x="730" y="548" width="3" height="51" fill="#c0c0c0"/>
<rect x="738" y="548" width="3" height="47" fill="#c0c0c0"/>
<rect x="746" y="548" width="3" height="42" fill="#c0c0c0"/>
<rect x="754" y="548" width="3" height="40" fill="#c0c0c0"/>
<rect x="762" y="548" width="3" height="37" fill="#c0c0c0"/>
<rect x="770" y="548" width="3" height="41" fill="#c0c0c0"/>
<rect x="778" y="548" width="3" height="43" fill="#c0c0c0"/>
<rect x="786" y="548" width="3" height="43" fill="#c0c0c0"/>
<rect x="794" y="548" width="3" height="46" fill="#c0c0c0"/>
<rect x="802" y="548" width="3" height="49" fill="#c0c0c0"/>
<rect x="810" y="548" width="3" height="54" fill="#c0c0c0"/>
<rect x="818" y="548" width="3" height="51" fill="#c0c0c0"/>
<rect x="826" y="548" width="3" height="48" fill="#c0c0c0"/>
<rect x="834" y="548" width="3" height="42" fill="#c0c0c0"/>
<rect x="842" y="548" width="3" height="39" fill="#c0c0c0"/>
<rect x="850" y="548" width="3" height="34" fill="#c0c0c0"/>
<rect x="858" y="548" width="3" height="30" fill="#c0c0c0"/>
<rect x="866" y="548" width="3" height="25" fill="#c0c0c0"/>
<rect x="874" y="548" width="3" height="21" fill="#c0c0c0"/>
<rect x="882" y="548" width="3" height="16" fill="#c0c0c0"/>
<rect x="890" y="548" width="3" height="14" fill="#c0c0c0"/>
<rect x="898" y="548" width="3" height="13" fill="#c0c0c0"/>
<rect x="906" y="548" width="3" height="12" fill="#c0c0c0"/>
<polyline points="3.5,529.5 11.5,528.3 19.5,527.2 27.5,525.6 35.5,524.2 43.5,522.5 51.5,521.4 59.5,520.3 67.5,519.3 75.5,519.2 83.5,518.5 91.5,518.3 99.5,518.2 107.5,518.2 115.5,517.6 123.5,517.2 131.5,515.8 139.5,515.8 147.5,515.8 155.5,515.8 163.5,515.3 171.5,515.3 179.5,514.4 187.5,514.4 195.5,516.0 203.5,518.5 211.5,521.2 219.5,524.1 227.5,527.2 235.5,530.4 243.5,533.2 251.5,536.0 259.5,537.9 267.5,539.1 275.5,539.1 283.5,539.4 291.5,539.4 299.5,539.4 307.5,539.4 315.5,539.4 323.5,540.4 331.5,541.4 339.5,542.2 347.5,543.2 355.5,543.2 363.5,544.4 371.5,543.2 379.5,543.2 387.5,542.2 395.5,542.2 403.5,542.2 411.5,544.1 419.5,547.2 427.5,549.0 435.5,553.1 443.5,556.2 451.5,559.6 459.5,562.5 467.5,566.2 475.5,568.1 483.5,569.4 491.5,568.5 499.5,568.1 507.5,567.2 515.5,566.2 523.5,565.6 531.5,564.4 539.5,562.5 547.5,561.2 555.5,559.8 563.5,558.5 571.5,558.5 579.5,557.5 587.5,557.5 595.5,557.5 603.5,558.5 611.5,559.4 619.5,560.2 627.5,561.5 635.5,562.5 643.5,563.5 651.5,564.6 659.5,566.2 667.5,568.1 675.5,572.2 683.5,576.2 691.5,580.0 699.5,585.6 707.5,590.0 715.5,593.8 723.5,597.8 731.5,600.4 739.5,601.2 747.5,601.2 755.5,599.0 763.5,597.2 771.5,595.2 779.5,593.5 787.5,591.2 795.5,590.4 803.5,590.4 811.5,591.2 819.5,592.2 827.5,593.5 835.5,594.4 843.5,593.5 851.5,592.5 859.5,591.2 867.5,588.1 875.5,585.0 883.5,580.6 891.5,576.9 899.5,573.1 907.5,570.0" fill="none" stroke="#ff0000" stroke-width="1" clip-path="url(#cmacd)" shape-rendering="crispEdges"/>
</g>
<text x="7" y="519" font-size="10" fill="#000" class="k" textLength="154" lengthAdjust="spacingAndGlyphs">MACD(12,26,9) -0.006600 -0.012886</text>
<rect x="1154" y="508" width="1" height="1" fill="#000"/>
<rect x="1154" y="548" width="1" height="1" fill="#000"/>
<rect x="1154" y="613" width="1" height="1" fill="#000"/>
<text x="1156.5" y="517" font-size="10" fill="#000" class="k" textLength="38.5" lengthAdjust="spacingAndGlyphs">0.023534</text>
<text x="1156.5" y="552" font-size="10" fill="#000" class="k" textLength="19" lengthAdjust="spacingAndGlyphs">0.00</text>
<text x="1156.5" y="611" font-size="10" fill="#000" class="k" textLength="41.5" lengthAdjust="spacingAndGlyphs">-0.038466</text>
<rect x="3" y="615" width="1" height="3" fill="#000"/>
<text x="1.4" y="627" font-size="10" fill="#000" class="k" textLength="46.7" lengthAdjust="spacingAndGlyphs">5 Oct 2018</text>
<rect x="67" y="615" width="1" height="3" fill="#000"/>
<text x="65.9" y="627" font-size="10" fill="#000" class="k" textLength="51.5" lengthAdjust="spacingAndGlyphs">15 Oct 2018</text>
<rect x="131" y="615" width="1" height="3" fill="#000"/>
<text x="129.7" y="627" font-size="10" fill="#000" class="k" textLength="51.4" lengthAdjust="spacingAndGlyphs">24 Oct 2018</text>
<rect x="195" y="615" width="1" height="3" fill="#000"/>
<text x="193.6" y="627" font-size="10" fill="#000" class="k" textLength="50.0" lengthAdjust="spacingAndGlyphs">2 Nov 2018</text>
<rect x="259" y="615" width="1" height="3" fill="#000"/>
<text x="257.7" y="627" font-size="10" fill="#000" class="k" textLength="54.6" lengthAdjust="spacingAndGlyphs">12 Nov 2018</text>
<rect x="323" y="615" width="1" height="3" fill="#000"/>
<text x="321.6" y="627" font-size="10" fill="#000" class="k" textLength="54.3" lengthAdjust="spacingAndGlyphs">21 Nov 2018</text>
<rect x="387" y="615" width="1" height="3" fill="#000"/>
<text x="385.7" y="627" font-size="10" fill="#000" class="k" textLength="54.4" lengthAdjust="spacingAndGlyphs">30 Nov 2018</text>
<rect x="451" y="615" width="1" height="3" fill="#000"/>
<text x="450.2" y="627" font-size="10" fill="#000" class="k" textLength="52.1" lengthAdjust="spacingAndGlyphs">10 Dec 2018</text>
<rect x="515" y="615" width="1" height="3" fill="#000"/>
<text x="513.6" y="627" font-size="10" fill="#000" class="k" textLength="52.3" lengthAdjust="spacingAndGlyphs">19 Dec 2018</text>
<rect x="579" y="615" width="1" height="3" fill="#000"/>
<text x="577.4" y="627" font-size="10" fill="#000" class="k" textLength="52.9" lengthAdjust="spacingAndGlyphs">28 Dec 2018</text>
<rect x="643" y="615" width="1" height="3" fill="#000"/>
<text x="641.9" y="627" font-size="10" fill="#000" class="k" textLength="45.4" lengthAdjust="spacingAndGlyphs">7 Jan 2019</text>
<rect x="707" y="615" width="1" height="3" fill="#000"/>
<text x="705.7" y="627" font-size="10" fill="#000" class="k" textLength="50.2" lengthAdjust="spacingAndGlyphs">16 Jan 2019</text>
<rect x="771" y="615" width="1" height="3" fill="#000"/>
<text x="769.4" y="627" font-size="10" fill="#000" class="k" textLength="50.7" lengthAdjust="spacingAndGlyphs">25 Jan 2019</text>
<rect x="835" y="615" width="1" height="3" fill="#000"/>
<text x="833.6" y="627" font-size="10" fill="#000" class="k" textLength="47.8" lengthAdjust="spacingAndGlyphs">4 Feb 2019</text>
<rect x="899" y="615" width="1" height="3" fill="#000"/>
<text x="897.7" y="627" font-size="10" fill="#000" class="k" textLength="52.6" lengthAdjust="spacingAndGlyphs">13 Feb 2019</text>
<rect x="0" y="637" width="1199" height="1" fill="#000000"/>
<rect x="0" y="638" width="1199" height="18" fill="#f0f0f0"/>
<rect x="0" y="656" width="1199" height="1" fill="#ffffff"/>
<rect x="0" y="657" width="1199" height="4" fill="#f0f0f0"/>
<rect x="0" y="661" width="1199" height="1" fill="#a0a0a0"/>
<rect x="0" y="662" width="1199" height="1" fill="#e3e3e3"/>
<rect x="416" y="637" width="104" height="19" fill="#000000"/>
<rect x="417" y="637" width="102" height="18" fill="#ffffff"/>
<rect x="108" y="640" width="1" height="15" fill="#7a7a7a"/>
<rect x="212" y="640" width="1" height="15" fill="#7a7a7a"/>
<rect x="312" y="640" width="1" height="15" fill="#7a7a7a"/>
<rect x="616" y="640" width="1" height="15" fill="#7a7a7a"/>
<rect x="708" y="640" width="1" height="15" fill="#7a7a7a"/>
<rect x="800" y="640" width="1" height="15" fill="#7a7a7a"/>
<rect x="888" y="640" width="1" height="15" fill="#7a7a7a"/>
<rect x="992" y="640" width="1" height="15" fill="#7a7a7a"/>
<rect x="1060" y="640" width="1" height="15" fill="#7a7a7a"/>
<rect x="1152" y="640" width="1" height="15" fill="#7a7a7a"/>
<text x="15.2" y="652" font-size="12" fill="#6d6d6d" textLength="81.6" lengthAdjust="spacingAndGlyphs">EURUSD,Daily</text>
<text x="118.4" y="652" font-size="12" fill="#6d6d6d" textLength="83.3" lengthAdjust="spacingAndGlyphs">AUDUSD,Daily</text>
<text x="221.39999999999998" y="652" font-size="12" fill="#6d6d6d" textLength="80.1" lengthAdjust="spacingAndGlyphs">USDCHF,Daily</text>
<text x="322.8" y="652" font-size="12" fill="#6d6d6d" textLength="81.7" lengthAdjust="spacingAndGlyphs">USDCAD,Daily</text>
<text x="425.8" y="652" font-size="12" fill="#000000" textLength="83.6" lengthAdjust="spacingAndGlyphs">USDCNH,Daily</text>
<text x="529.2" y="652" font-size="12" fill="#6d6d6d" textLength="76.3" lengthAdjust="spacingAndGlyphs">USDJPY,Daily</text>
<text x="626.1" y="652" font-size="12" fill="#6d6d6d" textLength="70.7" lengthAdjust="spacingAndGlyphs">XAUUSD,H4</text>
<text x="719.2" y="652" font-size="12" fill="#6d6d6d" textLength="69.2" lengthAdjust="spacingAndGlyphs">GBPUSD,H1</text>
<text x="811.5" y="652" font-size="12" fill="#6d6d6d" textLength="65.2" lengthAdjust="spacingAndGlyphs">SP500,M15</text>
<text x="899.0" y="652" font-size="12" fill="#6d6d6d" textLength="81.5" lengthAdjust="spacingAndGlyphs">GBPUSD,Daily</text>
<text x="1001.2" y="652" font-size="12" fill="#6d6d6d" textLength="48.6" lengthAdjust="spacingAndGlyphs">DJ30,H4</text>
<text x="1069.2" y="652" font-size="12" fill="#6d6d6d" textLength="72.6" lengthAdjust="spacingAndGlyphs">TECH100,H1</text>
<polygon points="1172,643 1172,650 1168.5,646.5" fill="#a0a0a0" shape-rendering="geometricPrecision"/>
<polygon points="1188,642.5 1188,650 1192,646.2" fill="#000" shape-rendering="geometricPrecision"/>
</svg></body></html>
